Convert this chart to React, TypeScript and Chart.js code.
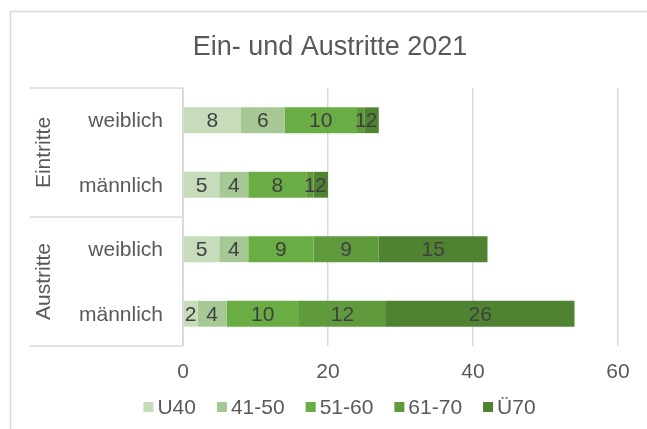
import React, { useEffect, useRef } from "react";
import { Chart, registerables } from "chart.js";

Chart.register(...registerables);

const title = "Ein- und Austritte 2021";
const categories = ["weiblich", "männlich", "weiblich", "männlich"];
const groups = ["Eintritte", "Austritte"];
const groupSizes = [2, 2];
const seriesNames = ["U40", "41-50", "51-60", "61-70", "Ü70"];
const u40 = [8, 5, 5, 2];
const a4150 = [6, 4, 4, 4];
const a5160 = [10, 8, 9, 10];
const a6170 = [1, 1, 9, 12];
const ue70 = [2, 2, 15, 26];
const seriesColors = ["#c6dcbb", "#a5c894", "#6aad45", "#5f9b3c", "#4f8231"];
const xTicks = [0, 20, 40, 60];

const FONT = "'Liberation Sans', Arial, sans-serif";
const GRID = "#d9d9d9";
const TEXT = "#595959";

const overlay = {
  id: "overlay",
  beforeDraw(chart: any) {
    const ctx = chart.ctx;
    ctx.save();
    ctx.fillStyle = "#ffffff";
    ctx.fillRect(0, 0, chart.width, chart.height);
    ctx.strokeStyle = GRID;
    ctx.lineWidth = 1.5;
    ctx.strokeRect(10.5, 11.5, 660, 440);
    ctx.restore();
  },
  afterDraw(chart: any) {
    const ctx = chart.ctx;
    const area = chart.chartArea;
    const yScale = chart.scales.y;
    ctx.save();
    // title
    ctx.fillStyle = TEXT;
    ctx.font = `27px ${FONT}`;
    ctx.textAlign = "center";
    ctx.textBaseline = "middle";
    ctx.fillText(title, 330, 48);

    // table lines
    const tableLeft = 30;
    ctx.strokeStyle = GRID;
    ctx.lineWidth = 1.5;
    const n = categories.length;
    const step = (area.bottom - area.top) / n;
    let idx = 0;
    const lines = [area.top];
    groupSizes.forEach((s) => {
      idx += s;
      lines.push(area.top + step * idx);
    });
    lines.forEach((yy) => {
      ctx.beginPath();
      ctx.moveTo(tableLeft, yy);
      ctx.lineTo(area.left, yy);
      ctx.stroke();
    });
    ctx.beginPath();
    ctx.moveTo(area.left, area.top);
    ctx.lineTo(area.left, area.bottom);
    ctx.stroke();

    // category labels
    ctx.fillStyle = TEXT;
    ctx.font = `21px ${FONT}`;
    ctx.textAlign = "right";
    ctx.textBaseline = "middle";
    categories.forEach((c, i) => {
      ctx.fillText(c, area.left - 20, yScale.getPixelForValue(i) + 1);
    });

    // group labels
    groups.forEach((g, gi) => {
      const yc = (lines[gi] + lines[gi + 1]) / 2;
      ctx.save();
      ctx.translate(44, yc);
      ctx.rotate(-Math.PI / 2);
      ctx.textAlign = "center";
      ctx.textBaseline = "middle";
      ctx.fillText(g, 0, 0);
      ctx.restore();
    });

    // data labels
    ctx.fillStyle = "#404040";
    ctx.font = `21px ${FONT}`;
    ctx.textAlign = "center";
    ctx.textBaseline = "middle";
    chart.data.datasets.forEach((ds: any, di: number) => {
      const meta = chart.getDatasetMeta(di);
      meta.data.forEach((bar: any, bi: number) => {
        const v = ds.data[bi];
        const cx = (bar.x + bar.base) / 2;
        ctx.fillText(String(v), cx, bar.y + 1);
      });
    });

    // legend
    ctx.font = `21px ${FONT}`;
    ctx.textBaseline = "middle";
    ctx.textAlign = "left";
    const box = 10;
    const gapBox = 4;
    const gapItem = 21;
    const widths = seriesNames.map((s) => box + gapBox + ctx.measureText(s).width);
    const total = widths.reduce((a, b) => a + b, 0) + gapItem * (seriesNames.length - 1);
    let lx = 339.5 - total / 2;
    const ly = 407;
    seriesNames.forEach((s, i) => {
      ctx.fillStyle = seriesColors[i];
      ctx.fillRect(lx, ly - box / 2, box, box);
      ctx.fillStyle = TEXT;
      ctx.fillText(s, lx + box + gapBox, ly + 1);
      lx += widths[i] + gapItem;
    });
    ctx.restore();
  },
};

export default function App() {
  const ref = useRef<HTMLCanvasElement>(null);
  useEffect(() => {
    if (!ref.current) return;
    const seriesData = [u40, a4150, a5160, a6170, ue70];
    const chart = new Chart(ref.current, {
      type: "bar",
      data: {
        labels: categories,
        datasets: seriesNames.map((name, i) => ({
          label: name,
          data: seriesData[i],
          backgroundColor: seriesColors[i],
          borderWidth: 0,
          barPercentage: 0.4,
          categoryPercentage: 1,
        })),
      },
      options: {
        indexAxis: "y",
        responsive: false,
        animation: false,
        layout: { padding: { left: 183, right: 29, top: 88, bottom: 43 } },
        plugins: {
          legend: { display: false },
          title: { display: false },
          tooltip: { enabled: false },
        },
        scales: {
          x: {
            stacked: true,
            min: 0,
            max: 60,
            afterBuildTicks: (s: any) => {
              s.ticks = xTicks.map((v) => ({ value: v }));
            },
            afterFit: (s: any) => {
              s.height = 40;
            },
            grid: { color: GRID, lineWidth: 1.5, drawTicks: false },
            border: { display: false },
            ticks: {
              color: TEXT,
              padding: 14,
              font: { family: FONT, size: 21 },
            },
          },
          y: {
            stacked: true,
            afterFit: (s: any) => {
              s.width = 0;
            },
            grid: { display: false },
            border: { display: false },
            ticks: { display: false },
          },
        },
      },
      plugins: [overlay],
    });
    return () => chart.destroy();
  }, []);
  return (
    <div style={{ position: "absolute", left: 0, top: 0, width: 647, height: 429 }}>
      <canvas ref={ref} width={647} height={429} />
    </div>
  );
}
